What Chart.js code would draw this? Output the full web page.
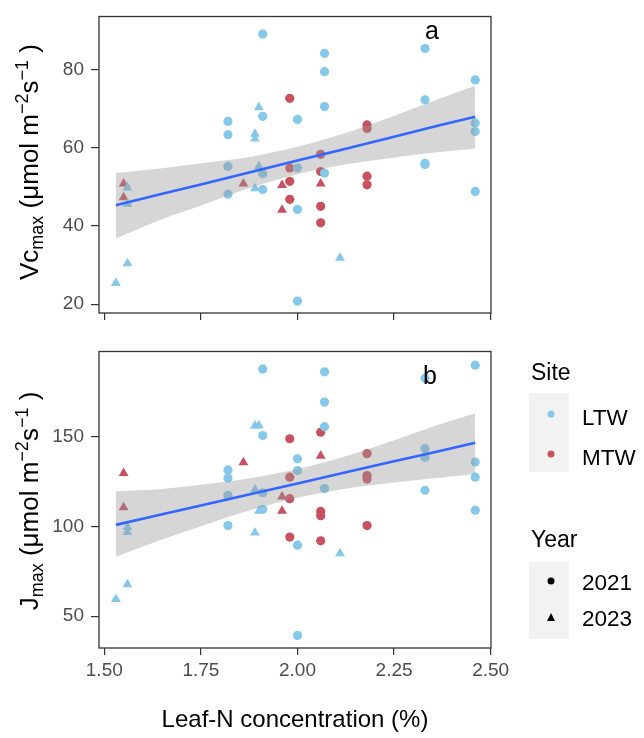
<!DOCTYPE html>
<html>
<head>
<meta charset="utf-8">
<script src="https://cdn.jsdelivr.net/npm/chart.js@4.4.1/dist/chart.umd.min.js"></script>
<style>
  body { margin: 0; background: #fff; font-family: "Liberation Sans", Arial, sans-serif; }
  #wrap { position: relative; width: 644px; height: 738px; overflow: hidden; }
  #wrap canvas { position: absolute; left: 0; }
  .ytitle { position: absolute; white-space: nowrap; font-size: 26px; line-height: 1; color: #000;
            transform: translate(-50%, -50%) rotate(-90deg); }
  .sub { font-size: 18px; vertical-align: -5px; }
  .sup { font-size: 18px; vertical-align: 10px; }
  .tag { position: absolute; font-size: 25px; line-height: 1; color: #000; }
  .lg-title { position: absolute; left: 531px; font-size: 23px; line-height: 1; color: #000; }
  .lg-box { position: absolute; left: 529px; width: 40px; background: #f2f2f2; }
  .lg-lab { position: absolute; left: 582px; font-size: 22.5px; line-height: 1; color: #000; }
  .dot { position: absolute; width: 7px; height: 7px; border-radius: 50%; transform: translate(-50%, -50%); }
  .tri { position: absolute; width: 0; height: 0; border-left: 4.5px solid transparent;
         border-right: 4.5px solid transparent; border-bottom: 8px solid #000; transform: translate(-50%, -50%); }
</style>
</head>
<body>
<div id="wrap">
  <canvas id="pa" width="520" height="335" style="top:0;width:520px;height:335px"></canvas>
  <canvas id="pb" width="520" height="403" style="top:335px;width:520px;height:403px"></canvas>

  <div class="ytitle" style="left:29px;top:162px">Vc<span class="sub">max</span> (μmol m<span class="sup">−2</span>s<span class="sup">−1</span> )</div>
  <div class="ytitle" style="left:29px;top:501px">J<span class="sub">max</span> (μmol m<span class="sup">−2</span>s<span class="sup">−1</span> )</div>

  <div class="tag" style="left:425px;top:18px">a</div>
  <div class="tag" style="left:423px;top:363px">b</div>

  <div class="lg-title" style="top:361px">Site</div>
  <div class="lg-box" style="top:393px;height:79px"></div>
  <div class="dot" style="left:551px;top:414px;background:#85C8EA"></div>
  <div class="dot" style="left:551px;top:454px;background:#C9515F"></div>
  <div class="lg-lab" style="top:407px">LTW</div>
  <div class="lg-lab" style="top:447px">MTW</div>

  <div class="lg-title" style="top:528px">Year</div>
  <div class="lg-box" style="top:562px;height:77px"></div>
  <div class="dot" style="left:551px;top:581px;background:#000"></div>
  <div class="tri" style="left:551px;top:617px"></div>
  <div class="lg-lab" style="top:572px">2021</div>
  <div class="lg-lab" style="top:608px">2023</div>
</div>

<script>
// ticks
const xTicks = [1.5, 1.75, 2.0, 2.25, 2.5];
const vcTicks = [20, 40, 60, 80];
const jTicks = [50, 100, 150];

// LTW, 2021 (circles)
const ltw21N  = [1.82, 1.82, 1.82, 1.82, 1.91, 1.91, 1.91, 1.91, 2.00, 2.00, 2.00, 2.00,
                 2.07, 2.07, 2.07, 2.07, 2.33, 2.33, 2.33, 2.33, 2.46, 2.46, 2.46, 2.46];
const ltw21Vc = [66.7, 63.3, 55.2, 48.1, 89.0, 68.0, 53.3, 49.3, 67.2, 54.8, 44.2, 20.8,
                 84.1, 79.4, 70.5, 53.5, 85.3, 72.2, 55.7, 56.0, 77.3, 66.3, 64.1, 48.8];
const ltw21J  = [131.5, 127.0, 117.3, 100.5, 187.7, 150.7, 118.8, 109.6, 137.7, 131.2, 89.6, 39.3,
                 186.2, 169.3, 155.6, 121.1, 182.6, 143.4, 138.5, 120.2, 189.9, 135.9, 127.5, 109.1];

// LTW, 2023 (triangles)
const ltw23N  = [1.53, 1.56, 1.56, 1.56, 1.89, 1.89, 1.89, 1.90, 1.90, 2.11];
const ltw23Vc = [25.4, 49.8, 45.6, 30.4, 63.5, 62.3, 49.6, 70.3, 55.2, 31.8];
const ltw23J  = [59.5, 99.6, 96.9, 67.7, 156.1, 120.6, 96.5, 156.3, 108.7, 85.0];

// MTW, 2021 (circles)
const mtw21N  = [1.98, 1.98, 1.98, 1.98, 2.06, 2.06, 2.06, 2.06, 2.18, 2.18, 2.18, 2.18];
const mtw21Vc = [72.6, 54.8, 51.4, 46.8, 58.3, 53.9, 45.0, 40.8, 65.8, 64.9, 52.7, 50.5];
const mtw21J  = [148.9, 127.5, 115.5, 94.1, 152.5, 108.4, 106.0, 92.0, 140.6, 128.4, 126.4, 100.5];

// MTW, 2023 (triangles)
const mtw23N  = [1.55, 1.55, 1.86, 1.96, 1.96, 2.06];
const mtw23Vc = [50.8, 47.3, 50.8, 50.4, 44.1, 50.8];
const mtw23J  = [129.7, 110.6, 135.7, 116.6, 108.7, 139.4];

// linear fit + 95% band
const fitN    = [1.53, 1.65, 1.75, 1.88, 2.00, 2.12, 2.25, 2.36, 2.46];
const vcFit   = [45.3, 48.2, 50.6, 53.8, 56.7, 59.6, 62.8, 65.5, 67.9];
const vcUpper = [53.5, 54.7, 56.0, 57.7, 60.2, 63.6, 68.1, 72.2, 75.8];
const vcLower = [36.8, 41.7, 45.2, 49.8, 53.2, 55.6, 57.5, 58.8, 59.8];
const jFit    = [100.9, 106.8, 111.7, 118.1, 124.0, 129.9, 136.3, 141.7, 146.7];
const jUpper  = [119.7, 120.9, 123.2, 127.0, 132.0, 138.9, 148.1, 156.4, 163.1];
const jLower  = [83.2, 92.7, 100.2, 109.2, 116.0, 120.9, 124.5, 127.0, 129.3];

const FONT = '"Liberation Sans", Arial, sans-serif';
const LTW = "#85C8EA", MTW = "#C9515F";
const BAND = "rgba(153,153,153,0.4)";

const pts = (xs, ys) => xs.map((x, i) => ({ x, y: ys[i] }));

const frame = {
  id: "frame",
  afterDraw(chart) {
    const a = chart.chartArea, ctx = chart.ctx;
    ctx.save();
    ctx.strokeStyle = "#333333";
    ctx.lineWidth = 1.3;
    ctx.strokeRect(a.left, a.top, a.right - a.left, a.bottom - a.top);
    ctx.restore();
  },
};

function scatterSet(xs, ys, color, style, r) {
  return {
    type: "scatter", data: pts(xs, ys), order: 3,
    pointStyle: style, pointRadius: r, pointBackgroundColor: color,
    pointBorderWidth: 0, borderWidth: 0,
  };
}

function bandSet(ys, fill) {
  return {
    type: "line", data: pts(fitN, ys), order: 2, fill: fill,
    backgroundColor: BAND, borderWidth: 0, pointRadius: 0,
    cubicInterpolationMode: "monotone",
  };
}

function makePanel(id, p) {
  return new Chart(document.getElementById(id), {
    type: "scatter",
    data: {
      datasets: [
        scatterSet(ltw21N, p.ltw21, LTW, "circle", 4.6),
        scatterSet(ltw23N, p.ltw23, LTW, "triangle", 5.7),
        scatterSet(mtw21N, p.mtw21, MTW, "circle", 4.6),
        scatterSet(mtw23N, p.mtw23, MTW, "triangle", 5.7),
        bandSet(p.upper, "+1"),
        bandSet(p.lower, false),
        { type: "line", data: pts(fitN, p.fit), order: 1, borderColor: "#3366FF",
          borderWidth: 2.6, pointRadius: 0, fill: false },
      ],
    },
    options: {
      responsive: false, animation: false, events: [],
      layout: { padding: { top: p.padTop, right: 29, left: 0, bottom: 0 } },
      plugins: { legend: { display: false }, tooltip: { enabled: false } },
      scales: {
        x: {
          type: "linear", min: 1.4863, max: 2.5008,
          afterBuildTicks: (s) => { s.ticks = xTicks.map((v) => ({ value: v })); },
          afterFit: (s) => { s.height = p.xHeight; },
          grid: { drawOnChartArea: false, drawTicks: true, tickLength: 7, color: "#333333", lineWidth: 1.2 },
          border: { display: false },
          ticks: {
            display: p.showX, color: "#4d4d4d", padding: 6,
            font: { family: FONT, size: 19, lineHeight: 1 },
            callback: (v) => v.toFixed(2),
          },
          title: {
            display: p.showX, text: "Leaf-N concentration (%)", color: "#000",
            font: { family: FONT, size: 24 }, padding: { top: 0, bottom: 3 },
          },
        },
        y: {
          type: "linear", min: p.yMin, max: p.yMax,
          afterBuildTicks: (s) => { s.ticks = p.yTicks.map((v) => ({ value: v })); },
          afterFit: (s) => { s.width = 99; },
          grid: { drawOnChartArea: false, drawTicks: true, tickLength: 8, color: "#333333", lineWidth: 1.2 },
          border: { display: false },
          ticks: { color: "#4d4d4d", padding: 7, font: { family: FONT, size: 19, lineHeight: 1 } },
        },
      },
    },
    plugins: [frame],
  });
}

makePanel("pa", {
  ltw21: ltw21Vc, ltw23: ltw23Vc, mtw21: mtw21Vc, mtw23: mtw23Vc,
  fit: vcFit, upper: vcUpper, lower: vcLower,
  yMin: 17.75, yMax: 93.5, yTicks: vcTicks,
  padTop: 10, xHeight: 22, showX: false,
});

makePanel("pb", {
  ltw21: ltw21J, ltw23: ltw23J, mtw21: mtw21J, mtw23: mtw23J,
  fit: jFit, upper: jUpper, lower: jLower,
  yMin: 32.3, yMax: 197.5, yTicks: jTicks,
  padTop: 11, xHeight: 90, showX: true,
});
</script>
</body>
</html>
